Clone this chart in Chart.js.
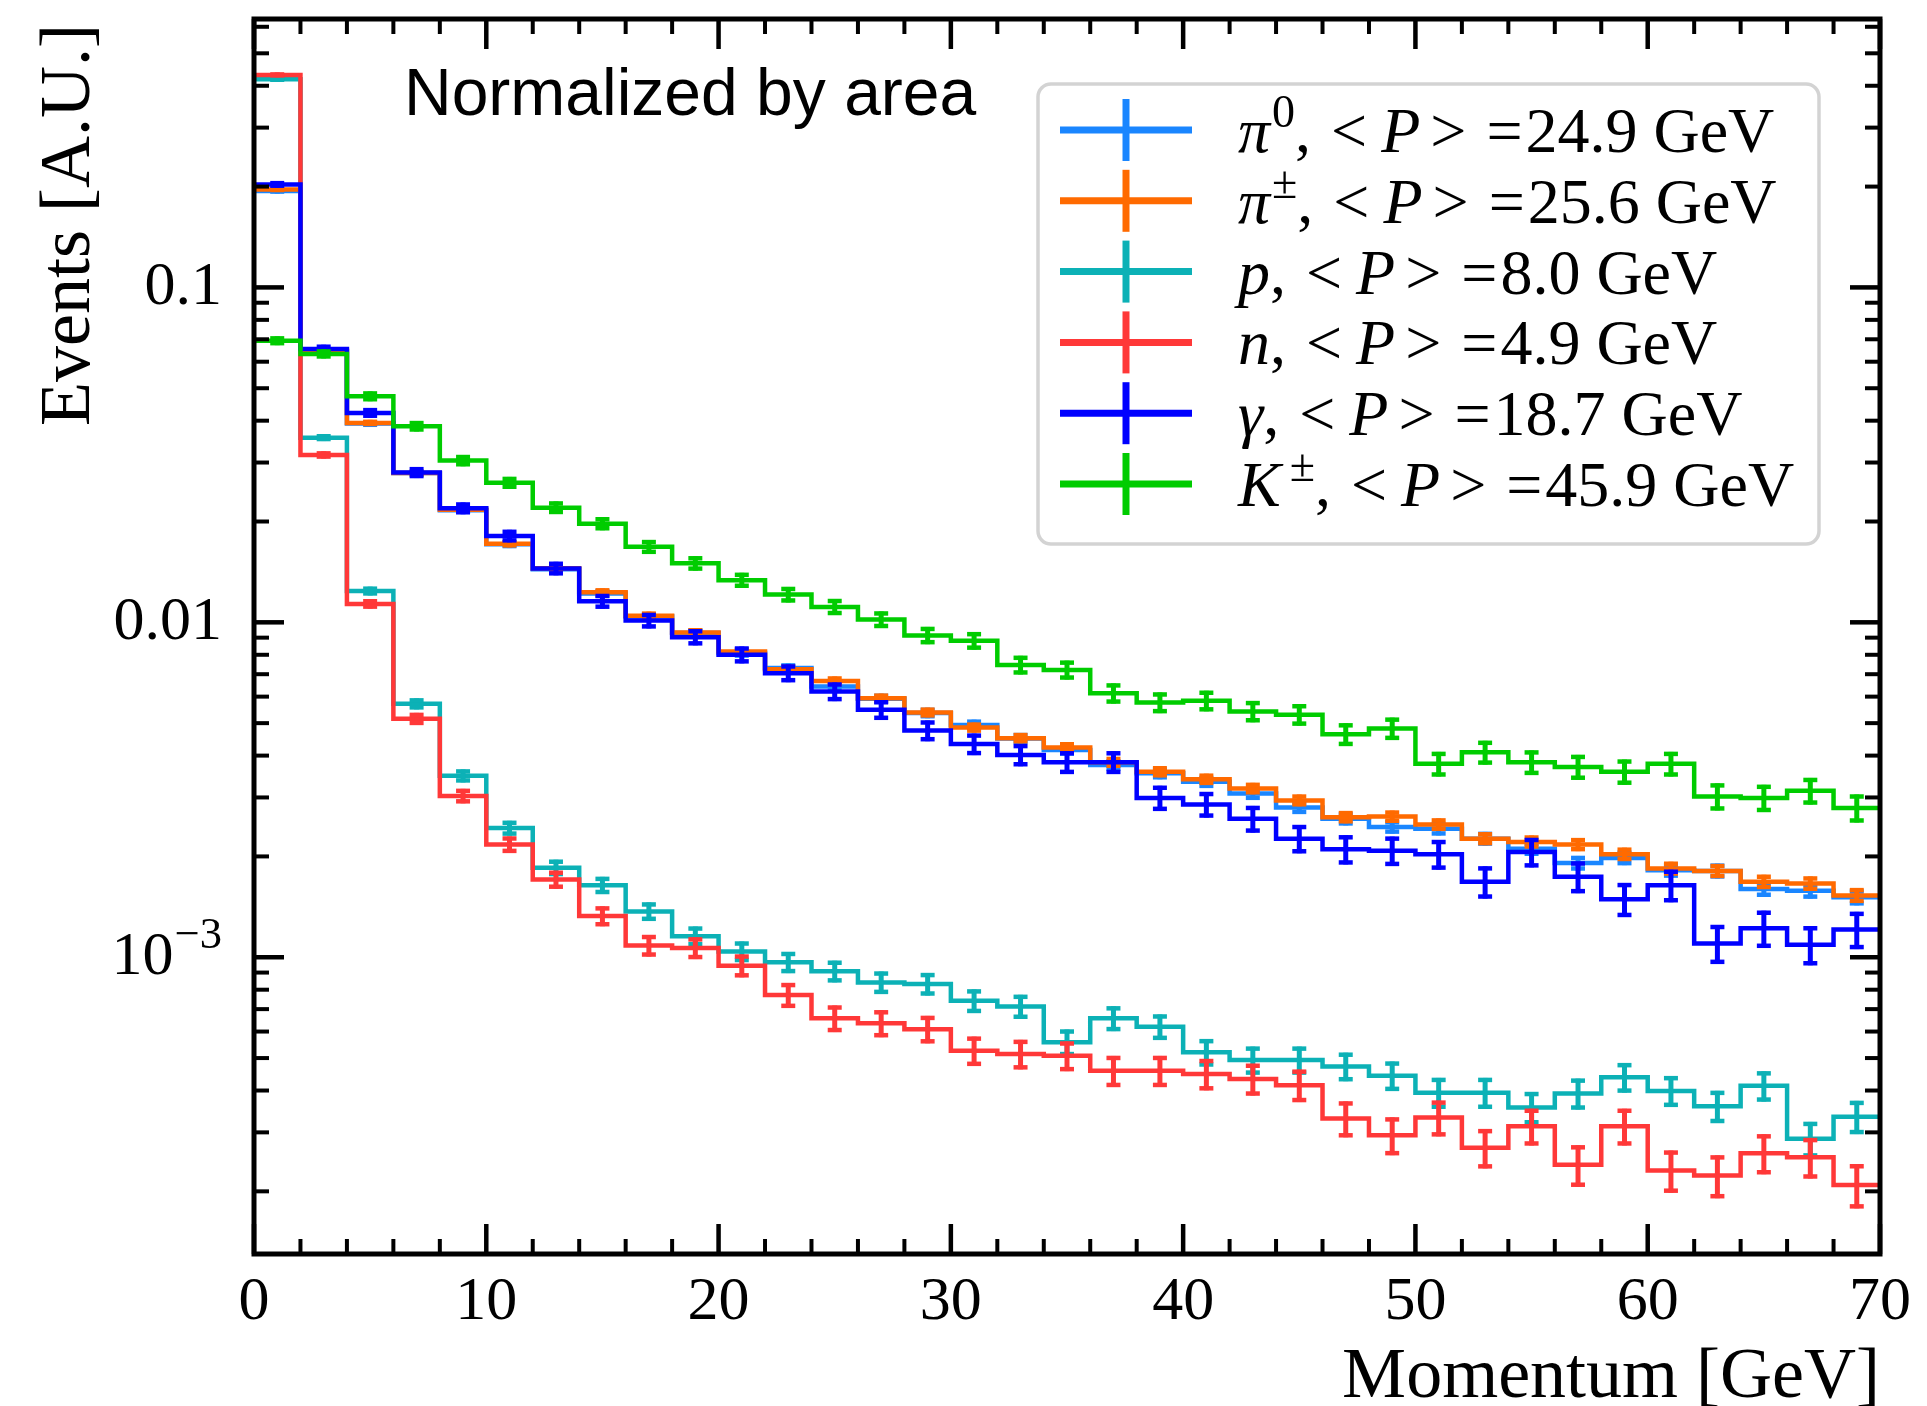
<!DOCTYPE html>
<html>
<head>
<meta charset="utf-8">
<script src="https://cdn.jsdelivr.net/npm/chart.js@4.4.0/dist/chart.umd.min.js"></script>
<style>
  html, body { margin: 0; padding: 0; background: #ffffff; }
  #wrap { position: relative; width: 1927px; height: 1406px; background: #ffffff; }
</style>
</head>
<body>
<div id="wrap"><canvas id="c" width="1927" height="1406"></canvas></div>
<script>
// ---------------- data ----------------
const binEdges = [0,2,4,6,8,10,12,14,16,18,20,22,24,26,28,30,32,34,36,38,40,42,44,46,48,50,52,54,56,58,60,62,64,66,68,70];
const xTickValues = [0,10,20,30,40,50,60,70];
const xMinorStep = 2;
const yTickValues = [0.1, 0.01, 0.001];
const yTickBase = ['0.1', '0.01', '10'];
const yTickSup = ['', '', '\u22123'];

const legendSymbols = ['\u03c0', '\u03c0', 'p', 'n', '\u03b3', 'K'];
const legendSups = ['0', '\u00b1', '', '', '', '\u00b1'];
const meanP = ['24.9', '25.6', '8.0', '4.9', '18.7', '45.9'];

const pi0 = [0.194, 0.0645, 0.0392, 0.0279, 0.0216, 0.0171, 0.0144, 0.0122, 0.0104, 0.0093, 0.0081, 0.0073, 0.00643, 0.00591, 0.00536, 0.00494, 0.00450, 0.00416, 0.00375, 0.00354, 0.00334, 0.00308, 0.00280, 0.00259, 0.00245, 0.00242, 0.00226, 0.00211, 0.00191, 0.00198, 0.00182, 0.00181, 0.00160, 0.00158, 0.00151];
const piCharged = [0.196, 0.0648, 0.0394, 0.0279, 0.0217, 0.01716, 0.0145, 0.0123, 0.01047, 0.00933, 0.00818, 0.00724, 0.00668, 0.00593, 0.00538, 0.00485, 0.00451, 0.00423, 0.00382, 0.00358, 0.00340, 0.00319, 0.00294, 0.00262, 0.00263, 0.00249, 0.00226, 0.00221, 0.00217, 0.00203, 0.00184, 0.00181, 0.00168, 0.00166, 0.00153];
const proton = [0.418, 0.0356, 0.0124, 0.00571, 0.00348, 0.00243, 0.00185, 0.00164, 0.00137, 0.001156, 0.00104, 0.000966, 0.000908, 0.000841, 0.000832, 0.000741, 0.000713, 0.000557, 0.000657, 0.00062, 0.00052, 0.000493, 0.000493, 0.000472, 0.000443, 0.000394, 0.000394, 0.000356, 0.000392, 0.000438, 0.000399, 0.000359, 0.000413, 0.000287, 0.000334];
const neutron = [0.431, 0.0316, 0.01135, 0.00515, 0.00303, 0.00217, 0.001706, 0.001327, 0.001084, 0.001066, 0.000944, 0.000771, 0.000657, 0.000635, 0.00061, 0.000526, 0.000514, 0.000508, 0.000458, 0.000458, 0.000448, 0.000433, 0.000415, 0.00033, 0.000294, 0.000332, 0.00027, 0.000313, 0.00024, 0.000313, 0.000231, 0.000223, 0.00026, 0.000253, 0.000209];
const photon = [0.203, 0.0655, 0.0422, 0.0280, 0.0219, 0.0181, 0.01448, 0.01156, 0.01012, 0.00903, 0.0080, 0.00705, 0.00621, 0.00548, 0.00475, 0.00433, 0.00402, 0.00382, 0.00382, 0.00299, 0.00286, 0.00259, 0.00226, 0.0021, 0.00208, 0.00203, 0.00168, 0.00206, 0.00174, 0.00149, 0.00164, 0.0011, 0.00122, 0.00109, 0.00121];
const kaon = [0.0693, 0.0633, 0.0473, 0.0385, 0.0304, 0.0261, 0.0220, 0.0197, 0.0168, 0.0150, 0.01336, 0.0121, 0.01112, 0.01019, 0.00914, 0.00881, 0.00746, 0.00721, 0.00614, 0.00576, 0.00583, 0.00542, 0.0053, 0.00463, 0.00482, 0.00378, 0.00409, 0.00382, 0.0037, 0.00358, 0.00378, 0.00302, 0.00299, 0.00314, 0.00279];
// effective event counts per species (Poisson scale of the error bars)
const effCounts = [400000, 480000, 300000, 255000, 64000, 53000];

const seriesColors = ['#1a86ff', '#ff6a00', '#0cb1b6', '#ff3838', '#0000ff', '#00cc00'];
const seriesValues = [pi0, piCharged, proton, neutron, photon, kaon];

// ---------------- layout / style ----------------
const SERIF = '"Liberation Serif", "Times New Roman", serif';
const SANS = '"Liberation Sans", Arial, sans-serif';
const TICK_FONT = 62, LABEL_FONT = 72, LEG_FONT = 64;

function line(ctx, x1, y1, x2, y2) {
  ctx.beginPath(); ctx.moveTo(x1, y1); ctx.lineTo(x2, y2); ctx.stroke();
}

const errorBarPlugin = {
  id: 'errorBars',
  afterDatasetDraw(chart, args) {
    const ds = chart.data.datasets[args.index];
    const vals = ds.binValues, N = ds.effCount;
    const { ctx, chartArea: a, scales: { x: xs, y: ys } } = chart;
    ctx.save();
    ctx.beginPath(); ctx.rect(a.left, a.top, a.right - a.left, a.bottom - a.top); ctx.clip();
    ctx.strokeStyle = ds.borderColor;
    ctx.lineCap = 'butt';
    for (let i = 0; i < vals.length; i++) {
      const v = vals[i];
      const err = Math.sqrt(v / N);
      const xc = xs.getPixelForValue((binEdges[i] + binEdges[i + 1]) / 2);
      const yHi = ys.getPixelForValue(v + err);
      const yLo = ys.getPixelForValue(Math.max(v - err, 1e-9));
      ctx.lineWidth = 5;
      line(ctx, xc, yHi - 2, xc, yLo + 2);
      ctx.lineWidth = 4.5;
      line(ctx, xc - 7, yHi, xc + 7, yHi);
      line(ctx, xc - 7, yLo, xc + 7, yLo);
    }
    ctx.restore();
  }
};

const framePlugin = {
  id: 'frame',
  afterDatasetsDraw(chart) {
    const { ctx, chartArea: a, scales: { x: xs, y: ys } } = chart;
    ctx.save();
    ctx.strokeStyle = '#000'; ctx.fillStyle = '#000'; ctx.lineCap = 'butt';
    const MAJ = 30, MIN = 15;
    // x ticks
    for (let g = xs.min; g <= xs.max + 1e-9; g += xMinorStep) {
      const px = xs.getPixelForValue(g);
      const major = xTickValues.includes(g);
      ctx.lineWidth = major ? 4.5 : 4;
      const L = major ? MAJ : MIN;
      line(ctx, px, a.bottom, px, a.bottom - L);
      line(ctx, px, a.top, px, a.top + L);
    }
    // y ticks (log)
    for (let d = -5; d <= 1; d++) {
      for (let k = 1; k <= 9; k++) {
        const v = k * Math.pow(10, d);
        if (v < ys.min || v > ys.max) continue;
        const py = ys.getPixelForValue(v);
        const major = k === 1;
        ctx.lineWidth = major ? 4.5 : 4;
        const L = major ? MAJ : MIN;
        line(ctx, a.left, py, a.left + L, py);
        line(ctx, a.right, py, a.right - L, py);
      }
    }
    // spines
    ctx.lineWidth = 5;
    ctx.strokeRect(a.left, a.top, a.right - a.left, a.bottom - a.top);

    // x tick labels
    ctx.font = `${TICK_FONT}px ${SERIF}`;
    ctx.textAlign = 'center'; ctx.textBaseline = 'alphabetic';
    xTickValues.forEach(v => ctx.fillText(String(v), xs.getPixelForValue(v), a.bottom + 65));
    // y tick labels
    yTickValues.forEach((v, i) => {
      const py = ys.getPixelForValue(v);
      const rightX = a.left - 32;
      let x = rightX;
      if (yTickSup[i]) {
        ctx.font = `${TICK_FONT * 0.72}px ${SERIF}`;
        ctx.textAlign = 'right'; ctx.textBaseline = 'alphabetic';
        ctx.fillText(yTickSup[i], x, py - 9);
        x -= ctx.measureText(yTickSup[i]).width + 1;
      }
      ctx.font = `${TICK_FONT}px ${SERIF}`;
      ctx.textAlign = 'right'; ctx.textBaseline = 'middle';
      ctx.fillText(yTickBase[i], x, py);
    });
    // axis titles
    ctx.font = `${LABEL_FONT}px ${SERIF}`;
    ctx.textAlign = 'right'; ctx.textBaseline = 'alphabetic';
    ctx.fillText('Momentum [GeV]', a.right, 1397);
    ctx.save();
    ctx.translate(89, 24);
    ctx.rotate(-Math.PI / 2);
    ctx.textAlign = 'right'; ctx.textBaseline = 'alphabetic';
    ctx.fillText('Events [A.U.]', 0, 0);
    ctx.restore();

    // annotation
    ctx.font = `66px ${SANS}`;
    ctx.textAlign = 'left'; ctx.textBaseline = 'alphabetic';
    ctx.fillText('Normalized by area', 404, 115);

    // legend
    const bx = 1038, by = 84, bw = 781, bh = 460, r = 13;
    ctx.beginPath();
    ctx.moveTo(bx + r, by);
    ctx.arcTo(bx + bw, by, bx + bw, by + bh, r);
    ctx.arcTo(bx + bw, by + bh, bx, by + bh, r);
    ctx.arcTo(bx, by + bh, bx, by, r);
    ctx.arcTo(bx, by, bx + bw, by, r);
    ctx.closePath();
    ctx.fillStyle = 'rgba(255,255,255,0.8)';
    ctx.fill();
    ctx.strokeStyle = '#d3d3d3'; ctx.lineWidth = 3.5;
    ctx.stroke();

    const row0 = 130, rowStep = 70.8;
    legendSymbols.forEach((sym, k) => {
      const ry = row0 + rowStep * k;
      ctx.strokeStyle = seriesColors[k]; ctx.lineWidth = 7;
      line(ctx, 1060, ry, 1192, ry);
      line(ctx, 1126, ry - 31, 1126, ry + 31);
      ctx.fillStyle = '#000'; ctx.textAlign = 'left'; ctx.textBaseline = 'alphabetic';
      const base = ry + 22;
      let x = 1238;
      ctx.font = `italic ${LEG_FONT}px ${SERIF}`;
      ctx.fillText(sym, x, base); x += ctx.measureText(sym).width;
      if (legendSups[k]) {
        const gap = sym === 'K' ? 9 : 2;
        ctx.font = `${LEG_FONT * 0.72}px ${SERIF}`;
        ctx.fillText(legendSups[k], x + gap, base - 25);
        x += ctx.measureText(legendSups[k]).width + gap;
      }
      ctx.font = `${LEG_FONT}px ${SERIF}`;
      ctx.fillText(',', x, base); x += ctx.measureText(',').width + 20;
      ctx.fillText('<', x, base); x += ctx.measureText('<').width + 14;
      ctx.font = `italic ${LEG_FONT}px ${SERIF}`;
      ctx.fillText('P', x, base); x += ctx.measureText('P').width + 10;
      ctx.font = `${LEG_FONT}px ${SERIF}`;
      ctx.fillText('>', x, base); x += ctx.measureText('>').width + 20;
      ctx.fillText('=', x, base); x += ctx.measureText('=').width + 3;
      ctx.fillText(meanP[k] + ' GeV', x, base);
    });
    ctx.restore();
  }
};

function build() {
  const datasets = seriesValues.map((vals, k) => ({
    label: legendSymbols[k] + legendSups[k],
    data: binEdges.map((e, i) => ({ x: e, y: vals[Math.min(i, vals.length - 1)] })),
    borderColor: seriesColors[k],
    backgroundColor: seriesColors[k],
    borderWidth: 4.5,
    pointRadius: 0,
    pointHoverRadius: 0,
    stepped: true,
    fill: false,
    tension: 0,
    order: seriesValues.length - k,
    binValues: vals,
    effCount: effCounts[k]
  }));

  new Chart(document.getElementById('c'), {
    type: 'line',
    data: { datasets },
    options: {
      responsive: false,
      animation: false,
      devicePixelRatio: 1,
      layout: { padding: { left: 254, right: 47, top: 19, bottom: 152 } },
      scales: {
        x: { type: 'linear', min: 0, max: 70, display: false },
        y: { type: 'logarithmic', min: 1.3e-4, max: 0.633, display: false }
      },
      elements: { line: { borderCapStyle: 'butt', borderJoinStyle: 'miter' } },
      plugins: { legend: { display: false }, tooltip: { enabled: false } },
      events: []
    },
    plugins: [errorBarPlugin, framePlugin]
  });
}

const fontLoads = [
  `60px "Liberation Serif"`, `italic 60px "Liberation Serif"`, `66px "Liberation Sans"`
].map(f => document.fonts.load(f));
Promise.all(fontLoads).then(build, build);
</script>
</body>
</html>
